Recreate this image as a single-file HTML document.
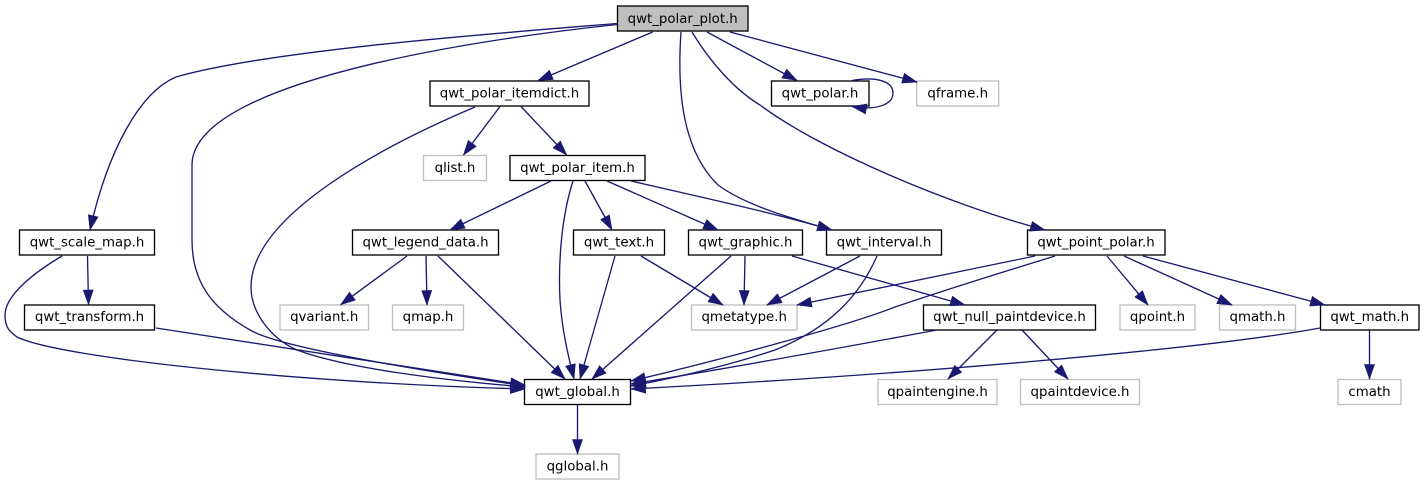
<!DOCTYPE html>
<html><head><meta charset="utf-8"><style>
html,body{margin:0;padding:0;background:#fff;width:1424px;height:485px;overflow:hidden}
svg{display:block;filter:blur(.3px)}
text{font-family:"DejaVu Sans",sans-serif;font-size:13.33px;text-anchor:middle;fill:#000}
.n rect{fill:#fff;stroke:#000;stroke-width:1.33}
.g rect{fill:#fff;stroke:#bfbfbf;stroke-width:1.33}
.e path{fill:none;stroke:#191970;stroke-width:1.33;marker-end:url(#a)}
</style></head><body>
<svg width="1424" height="485" viewBox="0 0 1424 485" xmlns="http://www.w3.org/2000/svg">
<defs><marker id="a" markerUnits="userSpaceOnUse" markerWidth="18" markerHeight="14" refX="14.5" refY="7" orient="auto" overflow="visible"><path d="M0,2 L14.5,7 L0,12 Z" fill="#191970" stroke="#191970" stroke-width=".6"/></marker></defs>
<g class="n">
<rect x="617.5" y="6" width="130.5" height="25" style="fill:#bfbfbf"/><text x="682.7" y="23">qwt_polar_plot.h</text>
<rect x="430" y="81" width="159" height="25"/><text x="509.5" y="97.5">qwt_polar_itemdict.h</text>
<rect x="771.5" y="81" width="97.5" height="25"/><text x="820" y="97.5">qwt_polar.h</text>
<rect x="510" y="155.5" width="135" height="25"/><text x="577.5" y="172">qwt_polar_item.h</text>
<rect x="19.5" y="230" width="135" height="25"/><text x="87" y="246.5">qwt_scale_map.h</text>
<rect x="352.5" y="230" width="146" height="25"/><text x="425.5" y="246.5">qwt_legend_data.h</text>
<rect x="573.5" y="230" width="91" height="25"/><text x="619" y="246.5">qwt_text.h</text>
<rect x="688.5" y="230" width="114" height="25"/><text x="745.5" y="246.5">qwt_graphic.h</text>
<rect x="826.5" y="230" width="115" height="25"/><text x="884" y="246.5">qwt_interval.h</text>
<rect x="1027.5" y="230" width="137.5" height="25"/><text x="1096" y="246.5">qwt_point_polar.h</text>
<rect x="24.5" y="305" width="130" height="25"/><text x="89.5" y="321">qwt_transform.h</text>
<rect x="923.5" y="305" width="172" height="25"/><text x="1009.5" y="321">qwt_null_paintdevice.h</text>
<rect x="1320.5" y="305" width="98.5" height="25"/><text x="1369.7" y="321">qwt_math.h</text>
<rect x="524.5" y="379.5" width="106" height="25"/><text x="577.5" y="396">qwt_global.h</text>
</g>
<g class="g">
<rect x="916.7" y="81" width="82" height="25"/><text x="957.7" y="97.5">qframe.h</text>
<rect x="423.5" y="155.5" width="63" height="25"/><text x="455" y="172">qlist.h</text>
<rect x="280" y="305" width="88.5" height="25"/><text x="324.2" y="321">qvariant.h</text>
<rect x="392.5" y="305" width="71" height="25"/><text x="428" y="321">qmap.h</text>
<rect x="691.5" y="305" width="105.5" height="25"/><text x="744.2" y="321">qmetatype.h</text>
<rect x="1120" y="305" width="75" height="25"/><text x="1157.5" y="321">qpoint.h</text>
<rect x="1219.5" y="305" width="76" height="25"/><text x="1257.5" y="321">qmath.h</text>
<rect x="878" y="379.5" width="119" height="25"/><text x="937.5" y="396">qpaintengine.h</text>
<rect x="1020.5" y="379.5" width="119" height="25"/><text x="1080" y="396">qpaintdevice.h</text>
<rect x="1338" y="379.5" width="63" height="25"/><text x="1369.5" y="396">cmath</text>
<rect x="536" y="454" width="83" height="25"/><text x="577.5" y="470.5">qglobal.h</text>
</g>
<g class="e">
<path d="M617,23.5 C500,33 270,50 176,77 C140,92 108,150 90,230"/>
<path d="M617,24.5 C520,35 192,75 192,165 L192,240 C192,285 215,310 250,330 C280,348 420,370 525,386"/>
<path d="M475,107 C385,145 251,215 251,287 C251,312 270,338 297,350 C345,368 440,380 525,387"/>
<path d="M156,328 L525,385"/>
<path d="M62,256 C35,272 5,295 5,315 C5,328 10,332 17,337 C60,358 300,383 525,389"/>
<path d="M87.5,256 L88.5,304.5"/>
<path d="M500,106.5 L463.5,155"/>
<path d="M521,106.5 L566.7,155"/>
<path d="M652.7,32 L538,80.5"/>
<path d="M681,32 C677,90 682,150 718,185 C745,205 790,218 832,230"/>
<path d="M631,181 C700,197 770,212 832,230"/>
<path d="M692,32 C710,62 735,90 760,105 C820,150 950,205 1045,230"/>
<path d="M707,32 L797,80.5"/>
<path d="M730,32 L917,82"/>
<path d="M852,80.5 C878,76 893,82 893,93 C893,104 878,111 852,106.5"/>
<path d="M551,181 L450,230"/>
<path d="M573,181 C562,215 558,260 560,300 C562,330 568,355 574,379"/>
<path d="M585,181 L612,230"/>
<path d="M607,181 L718,230"/>
<path d="M407,256 L340.7,304.7"/>
<path d="M426,256 L427,305"/>
<path d="M438,256 L565,379"/>
<path d="M615,256 L580,379"/>
<path d="M641,256 L723,305"/>
<path d="M731,256 L592,379"/>
<path d="M745,256 L744,305"/>
<path d="M792,256 L965,305"/>
<path d="M860,256 L767,305"/>
<path d="M877,256 C860,295 830,328 775,350 C730,365 680,377 631,386"/>
<path d="M1035,256 L797,305"/>
<path d="M1055,256 C1010,270 960,285 895,307 C850,325 720,360 631,381"/>
<path d="M937,330 C840,348 730,368 631,384"/>
<path d="M1107,256 L1148,305"/>
<path d="M1124,256 L1232,305"/>
<path d="M1143,256 L1325,305"/>
<path d="M1320,328 C1200,350 900,375 631,389"/>
<path d="M997,330 L948,379"/>
<path d="M1022,330 L1068,379"/>
<path d="M1369.5,330 L1369.5,379"/>
<path d="M577.5,405 L577.5,454"/>
</g>
</svg>
</body></html>
